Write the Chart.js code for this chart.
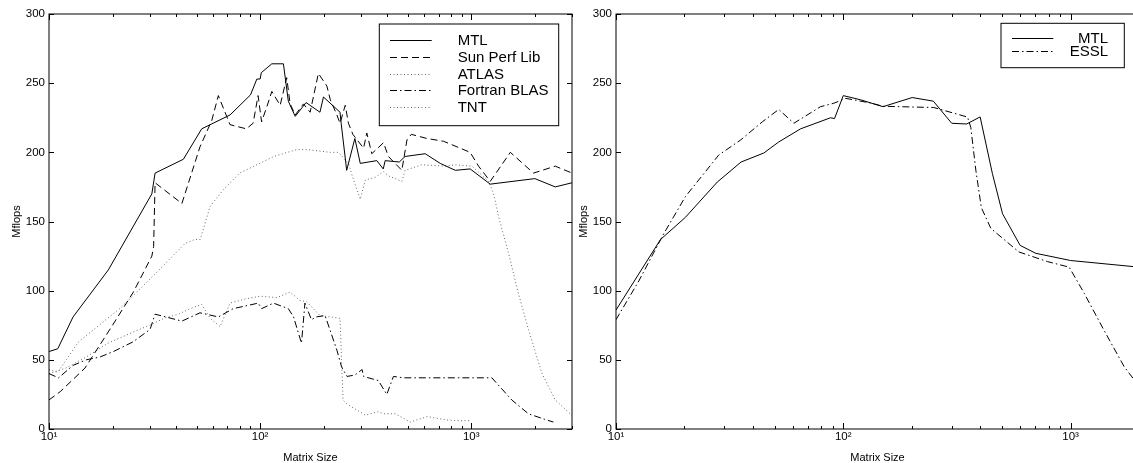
<!DOCTYPE html>
<html>
<head>
<meta charset="utf-8">
<script src="https://cdn.jsdelivr.net/npm/chart.js@4.4.0/dist/chart.umd.min.js"></script>
<style>
  html, body { margin: 0; padding: 0; background: #fff; overflow: hidden; }
  body { width: 1133px; height: 463px; position: relative; }
  .panel { position: absolute; top: 0; width: 580px; height: 463px; }
  #leftPanel { left: 0; }
  #rightPanel { left: 567px; }
</style>
</head>
<body>
<div class="panel" id="leftPanel"><canvas id="leftChart"></canvas></div>
<div class="panel" id="rightPanel"><canvas id="rightChart"></canvas></div>
<script>
// values (matrix size vs Mflops)
const mtlSizes = [10, 11, 13, 19.1, 30.7, 31.8, 43.3, 52.9, 72, 90, 96.5, 100, 101.3, 113.6, 128.9, 136, 146.6, 165, 192, 199.5, 239, 242, 257, 281, 298, 357, 383, 391, 456, 486, 605, 713, 840, 988, 1230, 2000, 2500, 3000];
const mtlMflops = [56, 58, 81, 115, 170, 185, 195, 217, 227, 241.5, 253, 253, 257.6, 264, 264, 237, 226, 236, 229, 240, 229, 221, 187, 210, 192, 194, 188, 194, 193, 197, 199, 192, 187, 188, 177, 181, 175, 178];

const sunSizes = [10, 11.3, 14.8, 19.8, 25.1, 30.7, 31.3, 31.8, 42.6, 51.9, 59, 63.4, 72, 86, 92.6, 97.8, 101.6, 107.6, 113.6, 124.4, 133.6, 138.7, 146.6, 160.4, 172.5, 188.7, 207, 215, 231, 239, 253, 262, 275, 309, 320, 338, 384, 405, 469, 496, 520, 617, 739, 988, 1083, 1230, 1531, 1972, 2500, 3000];
const sunMflops = [21, 27, 44, 74, 99, 125, 132, 178, 163, 204, 223, 241, 220, 217, 221, 241, 222, 233, 244, 234, 254, 235, 227, 235, 229, 257, 248, 238, 227, 221, 234, 221, 213, 203, 214, 199, 207, 197, 187, 209, 213, 210, 208, 200, 190, 179, 200, 185, 190, 185];

const atlasSizes = [10, 11, 13.8, 22, 31.8, 44, 49, 52, 58, 67, 80, 96.5, 116, 149, 167, 215, 235, 262, 277, 292, 298, 315, 351, 384, 405, 469, 486, 583, 753, 840, 1008, 1207, 1276, 1350, 1502, 1672, 1866, 2163, 2500, 2890, 3000];
const atlasMflops = [43, 41, 63, 88, 112, 134, 137, 137, 161, 173, 185, 191, 197, 202, 202, 200, 200, 192, 180, 170, 166, 180, 182, 186, 183, 179, 187, 191, 190, 191, 190, 179, 170, 153, 127, 98, 72, 40, 21, 12, 10];

const blasSizes = [10, 11.1, 13, 15, 17.4, 20.2, 25, 30.1, 31.8, 42.6, 51.9, 63.4, 74.5, 98, 101.6, 115.6, 136, 144, 157, 163, 175, 184, 203, 231, 243, 258, 281, 304, 309, 363, 398, 428, 477, 840, 1252, 1555, 1866, 2227, 2450];
const blasMflops = [40, 37, 46, 50, 52, 56, 63, 72, 83, 78, 84, 81, 87, 91, 87, 91, 87, 81, 62, 91, 79, 81, 82, 57, 45, 38, 39, 43, 38, 35, 25, 38, 37, 37, 37, 21, 11, 7, 5];

const tntSizes = [10, 12, 15, 19, 25, 31, 35, 41, 46.6, 52.9, 58, 64.6, 72, 85, 100, 120, 138.7, 154, 166, 192, 215, 239, 243, 247, 258, 315, 363, 384, 437, 514, 619, 764, 882, 988];
const tntMflops = [40, 44, 52, 62, 70, 76, 80, 83, 87, 90, 80, 74, 91, 94, 96, 95, 99, 93, 92, 82, 81, 80, 50, 21, 18, 10, 12.5, 11, 11, 5, 9, 6.5, 6, 6];

const mtl2Sizes = [10, 15.7, 20.2, 27.9, 35.5, 44.7, 52, 64.9, 87.9, 91.5, 100, 119, 149.5, 201, 249, 300, 349, 400, 453, 502, 600, 703, 1000, 2000];
const mtl2Mflops = [86, 137, 153, 178.5, 193, 199.5, 207.5, 217, 225, 224.4, 241, 238, 233, 239.6, 237, 221, 220.5, 225.6, 184.6, 155.6, 132.7, 127, 121.8, 117];

const esslSizes = [10, 12.6, 16.2, 20.2, 28.3, 35.4, 44, 52, 60.6, 79.4, 90.9, 102.6, 131.5, 149.5, 250, 352, 364, 383, 405, 446, 592, 792, 986, 1149, 1407, 1722, 2000];
const esslMflops = [79, 107, 141, 168, 198, 209, 222, 231, 221, 233, 235.5, 239, 235.7, 233.3, 232.4, 225.5, 218, 187, 160, 145, 128, 121, 117, 98, 71, 45, 31];

// axis ticks
const xMajorTicks = [10, 100, 1000];
const xTickLabels = ['10\u00B9', '10\u00B2', '10\u00B3'];
const xMinorTicks = [20, 30, 40, 50, 60, 70, 80, 90, 200, 300, 400, 500, 600, 700, 800, 900, 2000, 3000];
const yTicks = [0, 50, 100, 150, 200, 250, 300];

const FONT = '"Liberation Sans", Arial, sans-serif';
Chart.defaults.color = '#000';
Chart.defaults.font.family = FONT;

const pairs = (xs, ys) => xs.map((x, i) => ({ x: x, y: ys[i] }));

const SOLID = [];
const DASHED = [7, 4];
const DOTTED = [1, 2.5];
const DASHDOT = [7, 3, 1.5, 3];

function series(label, xs, ys, dash, color) {
  return {
    label: label,
    data: pairs(xs, ys),
    borderColor: color || '#000',
    borderWidth: 1,
    borderDash: dash,
    pointRadius: 0,
    tension: 0,
    fill: false,
  };
}

// box round the plot with inward tick marks, like the original figure
const frameTicks = {
  id: 'frameTicks',
  afterDraw(chart) {
    const { ctx, chartArea: a, scales: { x, y } } = chart;
    ctx.save();
    ctx.strokeStyle = '#000';
    ctx.lineWidth = 1;
    ctx.setLineDash([]);
    ctx.strokeRect(a.left, a.top, a.right - a.left, a.bottom - a.top);
    ctx.beginPath();
    x.ticks.forEach(t => {
      const px = Math.round(x.getPixelForValue(t.value)) + 0.5;
      const len = xMajorTicks.includes(t.value) ? 6 : 3;
      ctx.moveTo(px, a.bottom); ctx.lineTo(px, a.bottom - len);
      ctx.moveTo(px, a.top); ctx.lineTo(px, a.top + len);
    });
    y.ticks.forEach(t => {
      const py = Math.round(y.getPixelForValue(t.value)) + 0.5;
      ctx.moveTo(a.left, py); ctx.lineTo(a.left + 5, py);
      ctx.moveTo(a.right, py); ctx.lineTo(a.right - 5, py);
    });
    ctx.stroke();
    ctx.restore();
  }
};

// legend drawn inside the plot, in a bordered box
const boxLegend = {
  id: 'boxLegend',
  afterDraw(chart, args, o) {
    const { ctx, chartArea: a } = chart;
    const left = a.right - o.right - o.width;
    const top = a.top + o.top;
    ctx.save();
    ctx.fillStyle = '#fff';
    ctx.fillRect(left, top, o.width, o.height);
    ctx.strokeStyle = '#000';
    ctx.lineWidth = 1;
    ctx.setLineDash([]);
    ctx.strokeRect(left, top, o.width, o.height);
    ctx.font = '15px ' + FONT;
    ctx.textBaseline = 'middle';
    ctx.textAlign = o.align;
    chart.data.datasets.forEach((ds, i) => {
      const yy = Math.round(top + o.firstRow + i * o.rowGap) + 0.5;
      ctx.strokeStyle = ds.borderColor;
      ctx.lineWidth = ds.borderWidth;
      ctx.setLineDash(ds.borderDash);
      ctx.beginPath();
      ctx.moveTo(left + o.sampleX, yy);
      ctx.lineTo(left + o.sampleX + o.sampleLen, yy);
      ctx.stroke();
      ctx.fillStyle = '#000';
      ctx.fillText(ds.label, left + o.textX, yy + 0.5);
    });
    ctx.restore();
  }
};

function makeOptions(xMax, legendOpts) {
  return {
    responsive: true,
    maintainAspectRatio: false,
    animation: false,
    layout: { padding: { top: 14, right: 8, bottom: 0, left: 0 } },
    plugins: {
      legend: { display: false },
      tooltip: { enabled: false },
      boxLegend: legendOpts,
    },
    scales: {
      x: {
        type: 'logarithmic',
        min: 10,
        max: xMax,
        afterBuildTicks: s => {
          s.ticks = xMajorTicks.concat(xMinorTicks)
            .filter(v => v <= xMax)
            .sort((p, q) => p - q)
            .map(v => ({ value: v }));
        },
        ticks: {
          autoSkip: false,
          maxRotation: 0,
          minRotation: 0,
          padding: 1,
          font: { size: 11.5 },
          callback: v => {
            const i = xMajorTicks.indexOf(v);
            return i >= 0 ? xTickLabels[i] : '';
          },
        },
        grid: { display: false, drawTicks: false },
        border: { display: false },
        title: { display: true, text: 'Matrix Size', font: { size: 11, lineHeight: 1 }, padding: 0 },
        afterFit: s => { s.height = 34; },
      },
      y: {
        min: 0,
        max: 300,
        afterBuildTicks: s => { s.ticks = yTicks.map(v => ({ value: v })); },
        ticks: { padding: 4, font: { size: 11.5 } },
        grid: { display: false, drawTicks: false },
        border: { display: false },
        title: { display: true, text: 'Mflops', font: { size: 11, lineHeight: 1 }, padding: { top: 11, bottom: 0 } },
        afterFit: s => { s.width = 49; },
      },
    },
  };
}

new Chart(document.getElementById('leftChart'), {
  type: 'line',
  data: {
    datasets: [
      series('MTL', mtlSizes, mtlMflops, SOLID),
      series('Sun Perf Lib', sunSizes, sunMflops, DASHED),
      series('ATLAS', atlasSizes, atlasMflops, DOTTED, '#666'),
      series('Fortran BLAS', blasSizes, blasMflops, DASHDOT),
      series('TNT', tntSizes, tntMflops, DOTTED, '#666'),
    ],
  },
  options: makeOptions(3000, {
    right: 13.3, top: 10, width: 179.4, height: 101.7,
    firstRow: 16.3, rowGap: 16.7, sampleX: 10.7, sampleLen: 41.7, textX: 78.4, align: 'left',
  }),
  plugins: [frameTicks, boxLegend],
});

new Chart(document.getElementById('rightChart'), {
  type: 'line',
  data: {
    datasets: [
      series('MTL', mtl2Sizes, mtl2Mflops, SOLID),
      series('ESSL', esslSizes, esslMflops, DASHDOT),
    ],
  },
  options: makeOptions(2000, {
    right: 14.7, top: 9.3, width: 123.3, height: 44.4,
    firstRow: 15, rowGap: 12.5, sampleX: 11, sampleLen: 41.3, textX: 107, align: 'right',
  }),
  plugins: [frameTicks, boxLegend],
});
</script>
</body>
</html>
